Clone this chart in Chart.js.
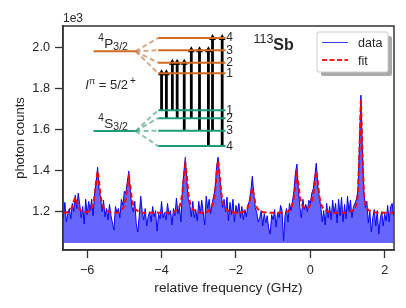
<!DOCTYPE html>
<html><head><meta charset="utf-8">
<style>html,body{margin:0;padding:0;background:#fff}canvas{display:block}</style>
<script src="https://cdn.jsdelivr.net/npm/chart.js@4"></script></head>
<body><canvas id="c" width="406" height="308"></canvas>
<script>
const freq=[-6.64,-6.60,-6.56,-6.52,-6.48,-6.44,-6.40,-6.36,-6.32,-6.28,
-6.24,-6.20,-6.16,-6.12,-6.08,-6.04,-6.00,-5.96,-5.92,-5.88,
-5.84,-5.80,-5.76,-5.72,-5.68,-5.64,-5.60,-5.56,-5.52,-5.48,
-5.44,-5.40,-5.36,-5.32,-5.28,-5.24,-5.20,-5.16,-5.12,-5.08,
-5.04,-5.00,-4.96,-4.92,-4.88,-4.84,-4.80,-4.76,-4.72,-4.68,
-4.64,-4.60,-4.56,-4.52,-4.48,-4.44,-4.40,-4.36,-4.32,-4.28,
-4.24,-4.20,-4.16,-4.12,-4.08,-4.04,-4.00,-3.96,-3.92,-3.88,
-3.84,-3.80,-3.76,-3.72,-3.68,-3.64,-3.60,-3.56,-3.52,-3.48,
-3.44,-3.40,-3.36,-3.32,-3.28,-3.24,-3.20,-3.16,-3.12,-3.08,
-3.04,-3.00,-2.96,-2.92,-2.88,-2.84,-2.80,-2.76,-2.72,-2.68,
-2.64,-2.60,-2.56,-2.52,-2.48,-2.44,-2.40,-2.36,-2.32,-2.28,
-2.24,-2.20,-2.16,-2.12,-2.08,-2.04,-2.00,-1.96,-1.92,-1.88,
-1.84,-1.80,-1.76,-1.72,-1.68,-1.64,-1.60,-1.56,-1.52,-1.48,
-1.44,-1.40,-1.36,-1.32,-1.28,-1.24,-1.20,-1.16,-1.12,-1.08,
-1.04,-1.00,-0.96,-0.92,-0.88,-0.84,-0.80,-0.76,-0.72,-0.68,
-0.64,-0.60,-0.56,-0.52,-0.48,-0.44,-0.40,-0.36,-0.32,-0.28,
-0.24,-0.20,-0.16,-0.12,-0.08,-0.04,0.00,0.04,0.08,0.12,
0.16,0.20,0.24,0.28,0.32,0.36,0.40,0.44,0.48,0.52,
0.56,0.60,0.64,0.68,0.72,0.76,0.80,0.84,0.88,0.92,
0.96,1.00,1.04,1.08,1.12,1.16,1.20,1.24,1.28,1.32,
1.36,1.40,1.44,1.48,1.52,1.56,1.60,1.64,1.68,1.72,
1.76,1.80,1.84,1.88,1.92,1.96,2.00,2.04,2.08,2.12,
2.16,2.20,2.24];
const counts=[1168,1245,1150,1190,1215,1165,1240,1200,1280,1215,
1290,1235,1170,1225,1140,1260,1185,1250,1205,1260,
1180,1290,1340,1416,1310,1270,1200,1255,1175,1215,
1160,1235,1180,1145,1110,1225,1195,1215,1170,1260,
1230,1300,1290,1345,1397,1300,1225,1200,1250,1140,
1100,1180,1275,1200,1160,1215,1130,1175,1200,1150,
1225,1175,1205,1105,1190,1165,1250,1170,1195,1160,
1240,1185,1205,1135,1215,1180,1265,1190,1225,1150,
1300,1395,1465,1350,1260,1230,1175,1250,1170,1210,
1155,1250,1190,1255,1200,1135,1275,1215,1260,1190,
1240,1275,1310,1420,1465,1380,1300,1220,1260,1200,
1270,1155,1245,1185,1260,1150,1230,1195,1240,1170,
1225,1160,1210,1175,1230,1250,1300,1372,1290,1220,
1195,1150,1170,1205,1130,1190,1145,1180,1120,1090,
1185,1160,1210,1125,1195,1170,1230,1205,1058,1180,
1215,1150,1240,1205,1250,1300,1390,1431,1300,1220,
1170,1260,1210,1235,1200,1255,1240,1290,1310,1370,
1436,1330,1270,1225,1150,1205,1135,1240,1170,1225,
1160,1255,1190,1240,1145,1260,1180,1270,1150,1235,
1165,1275,1200,1255,1170,1225,1240,1260,1300,1520,
1767,1500,1300,1220,1250,1145,1200,1100,1170,1210,
1130,1205,1090,1165,1200,1130,1190,1155,1230,1150,
1225,1240,1180];
const fitCounts=[1195,1195,1196,1199,1204,1211,1224,1251,1270,1251,
1224,1211,1204,1200,1198,1197,1198,1201,1206,1220,
1239,1275,1346,1397,1346,1275,1239,1220,1210,1204,
1201,1198,1196,1195,1195,1195,1195,1196,1203,1208,
1216,1231,1262,1321,1364,1321,1262,1231,1216,1208,
1203,1199,1197,1195,1194,1194,1194,1194,1194,1194,
1194,1194,1194,1194,1194,1194,1194,1194,1194,1194,
1194,1194,1194,1194,1194,1202,1207,1213,1225,1246,
1289,1372,1431,1372,1289,1246,1225,1213,1207,1203,
1200,1198,1196,1195,1195,1195,1197,1200,1205,1214,
1227,1250,1296,1386,1450,1386,1296,1250,1227,1214,
1207,1203,1200,1198,1197,1196,1195,1195,1195,1196,
1197,1199,1204,1210,1220,1242,1284,1314,1284,1242,
1220,1210,1204,1200,1198,1197,1196,1195,1194,1194,
1194,1194,1194,1194,1194,1194,1194,1194,1194,1197,
1199,1201,1209,1218,1235,1269,1335,1382,1335,1270,
1240,1225,1218,1215,1216,1221,1232,1250,1280,1350,
1397,1347,1277,1240,1222,1212,1206,1203,1200,1198,
1196,1195,1194,1194,1194,1194,1194,1194,1194,1194,
1196,1197,1199,1201,1204,1208,1215,1235,1285,1490,
1742,1490,1285,1235,1215,1208,1204,1201,1199,1197,
1196,1195,1194,1194,1194,1194,1194,1194,1194,1194,
1194,1194,1194];
const xTicks=[-6,-4,-2,0,2];
const xTickLabels=['\u22126','\u22124','\u22122','0','2'];
const yTicks=[1200,1400,1600,1800,2000];
const yTickLabels=['1.2','1.4','1.6','1.8','2.0'];
const upperCenter=[1981];
const lowerCenter=[1592];
const upperLevels=[2046,1986,1925,1874];
const lowerLevels=[1694,1655,1594,1519];
const upperNames=['4','3','2','1'];
const lowerNames=['1','2','3','4'];
const arrowFreq=[-4.00,-3.87,-3.71,-3.58,-3.39,-3.20,-2.98,-2.74,-2.63,-2.37];
const arrowLower=[1694,1655,1694,1655,1594,1655,1594,1519,1594,1519];
const arrowUpper=[1874,1874,1925,1925,1925,1986,1986,1986,2046,2046];
const centerRange=[-5.83,-4.70];
const levelRange=[-4.09,-2.28];
const ORANGE='#d2691e',GREEN='#1b9e77',INK='#262626',SPINE='#333333';

const seg=(a,b,c,w,extra)=>Object.assign({type:'line',data:[a,b],borderColor:c,borderWidth:w,pointRadius:0,fill:false,tension:0},extra||{});
const diagram=[];
diagram.push(seg({x:centerRange[0],y:upperCenter[0]},{x:centerRange[1],y:upperCenter[0]},ORANGE,2));
diagram.push(seg({x:centerRange[0],y:lowerCenter[0]},{x:centerRange[1],y:lowerCenter[0]},GREEN,2));
upperLevels.forEach(v=>{
  diagram.push(seg({x:levelRange[0],y:v},{x:levelRange[1],y:v},ORANGE,2));
  diagram.push(seg({x:centerRange[1],y:upperCenter[0]},{x:levelRange[0],y:v},'rgba(190,125,80,0.65)',2,{borderDash:[5,3]}));
});
lowerLevels.forEach(v=>{
  diagram.push(seg({x:levelRange[0],y:v},{x:levelRange[1],y:v},GREEN,2));
  diagram.push(seg({x:centerRange[1],y:lowerCenter[0]},{x:levelRange[0],y:v},'rgba(60,150,120,0.6)',2,{borderDash:[5,3]}));
});
arrowFreq.forEach((f,i)=>{
  diagram.push(seg({x:f,y:arrowLower[i]},{x:f,y:arrowUpper[i]},'#000',2.8,{
    pointRadius:[0,4],pointStyle:'triangle',pointBackgroundColor:'#000',pointBorderColor:'#000',pointBorderWidth:0}));
});

const textPlugin={id:'annot',
 afterDraw(ch){
  const c=ch.ctx,X=ch.scales.x,Y=ch.scales.y,A=ch.chartArea;
  c.save();
  c.strokeStyle=SPINE;c.lineWidth=1.5;
  c.strokeRect(A.left,A.top,A.right-A.left,A.bottom-A.top);
  const F='"Liberation Sans",Arial,sans-serif';
  const t=(s,x,y,font,al)=>{c.font=font+' '+F;c.textAlign=al||'left';c.textBaseline='alphabetic';c.fillStyle=INK;c.fillText(s,x,y);return c.measureText(s).width;};
  t('1e3',63,22,'12px');
  [[upperCenter[0],'P'],[lowerCenter[0],'S']].forEach(([v,l])=>{
    const px=X.getPixelForValue(-5.70),py=Y.getPixelForValue(v)-3;
    t('4',px,py-7,'10px');
    const w=t(l,px+6,py,'13.5px');
    t('3/2',px+6+w,py+2,'10.5px');
  });
  let x0=X.getPixelForValue(-6.05),y0=Y.getPixelForValue(1795);
  x0+=t('I',x0,y0,'italic 13px');
  x0+=t('\u03c0',x0,y0-5,'9px');
  x0+=t(' = 5/2',x0,y0,'13px');
  t('+',x0+2,y0-5,'10px');
  const nx=X.getPixelForValue(-2.26);
  upperLevels.forEach((v,i)=>t(upperNames[i],nx,Y.getPixelForValue(v)+3.5,'12px'));
  lowerLevels.forEach((v,i)=>t(lowerNames[i],nx,Y.getPixelForValue(v)+3.5,'12px'));
  let ix=X.getPixelForValue(-1.53),iy=Y.getPixelForValue(1985);
  ix+=t('113',ix,iy-7,'12.5px');
  t('Sb',ix,iy,'bold 16px');
  const lx=317,ly=32,lw=71,lh=40;
  const rr=(x,y,w,h,r)=>{c.beginPath();c.roundRect(x,y,w,h,r);};
  c.fillStyle='#aaaaaa';rr(lx+4,ly+4,lw,lh,2);c.fill();
  c.fillStyle='#ffffff';c.strokeStyle='#cccccc';c.lineWidth=1;rr(lx,ly,lw,lh,2);c.fill();c.stroke();
  c.beginPath();c.strokeStyle='#3a3aff';c.lineWidth=1;c.moveTo(322,42.5);c.lineTo(348,42.5);c.stroke();
  c.beginPath();c.strokeStyle='#ff1a1a';c.lineWidth=2;c.setLineDash([5,2.5]);c.moveTo(322,60);c.lineTo(348,60);c.stroke();c.setLineDash([]);
  t('data',358,47,'12.5px');
  t('fit',358,65,'12.5px');
  c.restore();
 }};

new Chart(document.getElementById('c'),{
 type:'line',
 data:{datasets:[
  {label:'data',data:freq.map((x,i)=>({x,y:counts[i]})),borderColor:'#0000ff',borderWidth:1,pointRadius:0,tension:0,
   fill:{value:1047},backgroundColor:'rgba(0,0,255,0.6)',order:3},
  {label:'fit',data:freq.map((x,i)=>({x,y:fitCounts[i]})),borderColor:'#ff0000',borderWidth:2,borderDash:[5,3],pointRadius:0,tension:0,fill:false,order:2},
  ...diagram.map(d=>Object.assign(d,{order:1}))
 ]},
 plugins:[textPlugin],
 options:{responsive:false,animation:false,
  layout:{padding:{top:26,right:12,left:13,bottom:12}},
  plugins:{legend:{display:false},tooltip:{enabled:false}},
  scales:{
   x:{type:'linear',min:-6.65,max:2.25,
    afterBuildTicks(s){s.ticks=xTicks.map(v=>({value:v}));},
    afterFit(s){s.height=46;},
    ticks:{color:INK,font:{family:'"Liberation Sans"',size:12.7},padding:5,maxRotation:0,
      callback:v=>xTickLabels[xTicks.indexOf(v)]},
    grid:{drawOnChartArea:false,drawTicks:true,tickLength:8,tickColor:SPINE,tickWidth:1.3},
    border:{color:SPINE,width:1.5},
    title:{display:true,text:'relative frequency (GHz)',color:INK,font:{family:'"Liberation Sans"',size:13.7},padding:{top:2,bottom:0}}},
   y:{type:'linear',min:1013,max:2104,
    afterBuildTicks(s){s.ticks=yTicks.map(v=>({value:v}));},
    afterFit(s){s.width=50;},
    ticks:{color:INK,font:{family:'"Liberation Sans"',size:12.7},padding:5,
      callback:v=>yTickLabels[yTicks.indexOf(v)]},
    grid:{drawOnChartArea:false,drawTicks:true,tickLength:8,tickColor:SPINE,tickWidth:1.3},
    border:{color:SPINE,width:1.5},
    title:{display:true,text:'photon counts',color:INK,font:{family:'"Liberation Sans"',size:13},padding:{top:0,bottom:4}}}
  }}
});
</script></body></html>
